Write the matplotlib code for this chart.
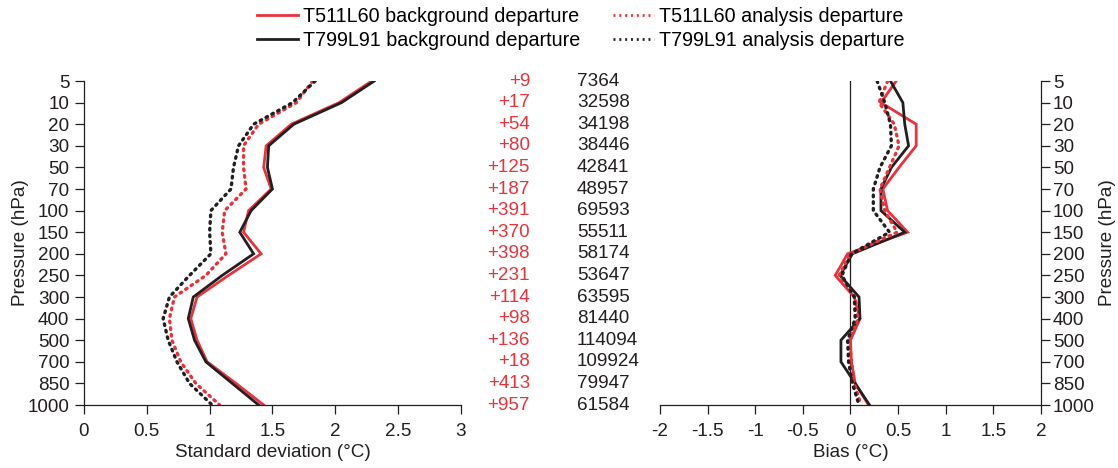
import matplotlib.pyplot as plt
from matplotlib.lines import Line2D
from matplotlib.transforms import blended_transform_factory

plt.rcParams['font.family'] = ['Liberation Sans', 'DejaVu Sans']

# pressure levels (hPa), plotted on an evenly spaced index axis
levels = [5, 10, 20, 30, 50, 70, 100, 150, 200, 250, 300, 400, 500, 700, 850, 1000]

# standard deviation of departures (degC)
sd_bg_t511 = [2.29, 2.03, 1.65, 1.45, 1.43, 1.49, 1.31, 1.27, 1.41, 1.15, 0.90, 0.85, 0.90, 0.98, 1.21, 1.43]
sd_bg_t799 = [2.31, 2.05, 1.67, 1.47, 1.46, 1.50, 1.33, 1.24, 1.35, 1.10, 0.87, 0.83, 0.88, 0.97, 1.18, 1.39]
sd_an_t511 = [1.82, 1.69, 1.39, 1.27, 1.27, 1.29, 1.12, 1.10, 1.13, 0.97, 0.72, 0.68, 0.70, 0.77, 0.89, 1.08]
sd_an_t799 = [1.84, 1.66, 1.35, 1.23, 1.19, 1.17, 1.01, 1.00, 1.01, 0.84, 0.68, 0.63, 0.67, 0.74, 0.84, 1.02]

# bias of departures (degC)
bias_bg_t511 = [0.48, 0.32, 0.69, 0.69, 0.51, 0.34, 0.39, 0.60, -0.03, -0.16, 0.04, 0.10, 0.00, 0.01, 0.05, 0.19]
bias_bg_t799 = [0.42, 0.55, 0.57, 0.61, 0.43, 0.32, 0.32, 0.57, 0.02, -0.11, 0.09, 0.10, -0.10, -0.10, 0.05, 0.20]
bias_an_t511 = [0.39, 0.30, 0.46, 0.51, 0.41, 0.31, 0.36, 0.49, 0.00, -0.12, 0.05, 0.08, -0.01, 0.01, 0.04, 0.11]
bias_an_t799 = [0.28, 0.36, 0.42, 0.43, 0.31, 0.24, 0.24, 0.41, 0.01, -0.09, 0.04, 0.05, -0.03, -0.02, 0.02, 0.09]

# observation counts: change in number used, and total number
obs_change = [9, 17, 54, 80, 125, 187, 391, 370, 398, 231, 114, 98, 136, 18, 413, 957]
obs_count = [7364, 32598, 34198, 38446, 42841, 48957, 69593, 55511, 58174, 53647, 63595, 81440, 114094, 109924, 79947, 61584]

RED = '#e8333b'
BLACK = '#231f20'
FS = 13.6
LEG_FS = 14.2

idx = list(range(len(levels)))

fig = plt.figure(figsize=(11.18, 4.68), dpi=100)
ax1 = fig.add_axes([0.0751, 0.1346, 0.3372, 0.6923])
ax2 = fig.add_axes([0.5903, 0.1346, 0.3408, 0.6923])

solid = dict(lw=2.0, solid_joinstyle='miter')
dots = dict(lw=2.4, linestyle=(0, (0.5, 1.5)), dash_capstyle='round')

ax1.plot(sd_bg_t511, idx, color=RED, **solid)
ax1.plot(sd_bg_t799, idx, color=BLACK, **solid)
ax1.plot(sd_an_t511, idx, color=RED, **dots)
ax1.plot(sd_an_t799, idx, color=BLACK, **dots)

ax2.axvline(0, color=BLACK, lw=0.9)
ax2.plot(bias_bg_t511, idx, color=RED, **solid)
ax2.plot(bias_bg_t799, idx, color=BLACK, **solid)
ax2.plot(bias_an_t511, idx, color=RED, **dots)
ax2.plot(bias_an_t799, idx, color=BLACK, **dots)

for ax in (ax1, ax2):
    ax.set_ylim(len(levels) - 1, 0)
    ax.set_yticks(idx)
    ax.set_yticklabels([str(l) for l in levels])
    ax.spines['top'].set_visible(False)
    ax.tick_params(labelsize=FS, color=BLACK, labelcolor=BLACK, width=0.9, length=6.5)
    ax.tick_params(axis='x', pad=6.5)
    for s in ax.spines.values():
        s.set_color(BLACK)
        s.set_linewidth(0.9)

ax1.spines['right'].set_visible(False)
ax1.tick_params(axis='y', pad=4)
ax1.set_xlim(0, 3)
ax1.set_xticks([0, 0.5, 1, 1.5, 2, 2.5, 3])
ax1.set_xticklabels(['0', '0.5', '1', '1.5', '2', '2.5', '3'])
ax1.set_xlabel('Standard deviation (°C)', fontsize=FS, color=BLACK, labelpad=3)
ax1.set_ylabel('Pressure (hPa)', fontsize=FS, color=BLACK, labelpad=-1)

ax2.spines['left'].set_visible(False)
ax2.set_xlim(-2, 2)
ax2.set_xticks([-2, -1.5, -1, -0.5, 0, 0.5, 1, 1.5, 2])
ax2.set_xticklabels(['-2', '-1.5', '-1', '-0.5', '0', '0.5', '1', '1.5', '2'])
ax2.yaxis.tick_right()
ax2.yaxis.set_label_position('right')
ax2.tick_params(axis='y', pad=2)
ax2.set_xlabel('Bias (°C)', fontsize=FS, color=BLACK, labelpad=3)
ax2.set_ylabel('Pressure (hPa)', fontsize=FS, color=BLACK, labelpad=3)

# observation count columns between the panels
trans = blended_transform_factory(fig.transFigure, ax1.transData)
for i in idx:
    ax1.text(530 / 1118, i, '+%d' % obs_change[i], transform=trans, ha='right', va='center',
             fontsize=FS, color=RED, clip_on=False)
    ax1.text(577 / 1118, i, str(obs_count[i]), transform=trans, ha='left', va='center',
             fontsize=FS, color=BLACK, clip_on=False)

# legend across the top
handles = [
    Line2D([], [], color=RED, **solid),
    Line2D([], [], color=BLACK, **solid),
    Line2D([], [], color=RED, lw=2.0, linestyle=(0, (0.7, 1.4))),
    Line2D([], [], color=BLACK, lw=2.0, linestyle=(0, (0.7, 1.4))),
]
labels = ['T511L60 background departure', 'T799L91 background departure',
          'T511L60 analysis departure', 'T799L91 analysis departure']
fig.legend(handles, labels, ncol=2, loc='center', bbox_to_anchor=(581 / 1118, 1 - 28.5 / 468),
           frameon=False, fontsize=LEG_FS, handlelength=2.08, handletextpad=0.25,
           columnspacing=1.67, labelspacing=0.22, borderpad=0)

fig.savefig('out.png', dpi=100)
